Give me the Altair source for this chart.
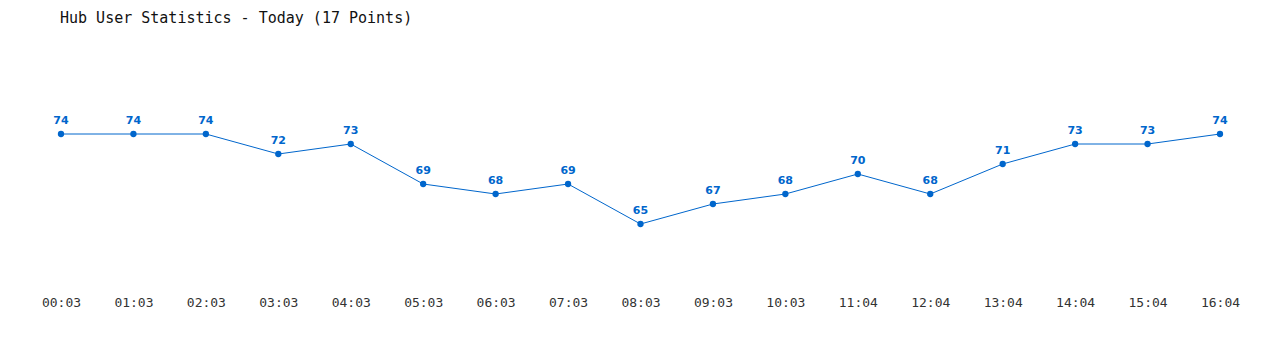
import altair as alt
import pandas as pd

times = ["00:03", "01:03", "02:03", "03:03", "04:03", "05:03", "06:03", "07:03", "08:03",
         "09:03", "10:03", "11:04", "12:04", "13:04", "14:04", "15:04", "16:04"]
users = [74, 74, 74, 72, 73, 69, 68, 69, 65, 67, 68, 70, 68, 71, 73, 73, 74]

df = pd.DataFrame({"time": times, "users": users})
BLUE = "#0066cc"

x = alt.X("time:O", sort=times,
          scale=alt.Scale(type="point", padding=0),
          axis=alt.Axis(title=None, labelAngle=0, ticks=False, domain=False, grid=False,
                        labelPadding=22, labelFont="DejaVu Sans Mono",
                        labelFontSize=13, labelColor="#333333"))
y = alt.Y("users:Q", scale=alt.Scale(domain=[60, 80], nice=False, zero=False), axis=None)

base = alt.Chart(df).encode(x=x, y=y)
line = base.mark_line(color=BLUE, strokeWidth=1)
pts = base.mark_point(color=BLUE, filled=True, opacity=1, size=40)
labels = base.mark_text(color=BLUE, dy=-13, font="DejaVu Sans", fontWeight="bold",
                        fontSize=11).encode(text="users:Q")

chart = (line + pts + labels).properties(
    width=1159, height=200,
    view=alt.ViewBackground(strokeOpacity=0, strokeWidth=0),
    title=alt.TitleParams("Hub User Statistics - Today (17 Points)", anchor="start",
                          frame="group",
                          font="DejaVu Sans Mono", fontSize=15, fontWeight="normal",
                          color="#111111", offset=48, dx=-1),
    autosize=alt.AutoSizeParams(type="none"),
    padding={"left": 61, "top": 74, "right": 60, "bottom": 76},
).configure_view(strokeWidth=0, strokeOpacity=0).configure(background="white")

chart.save("out.html", embed_options={"renderer": "svg", "actions": False})
